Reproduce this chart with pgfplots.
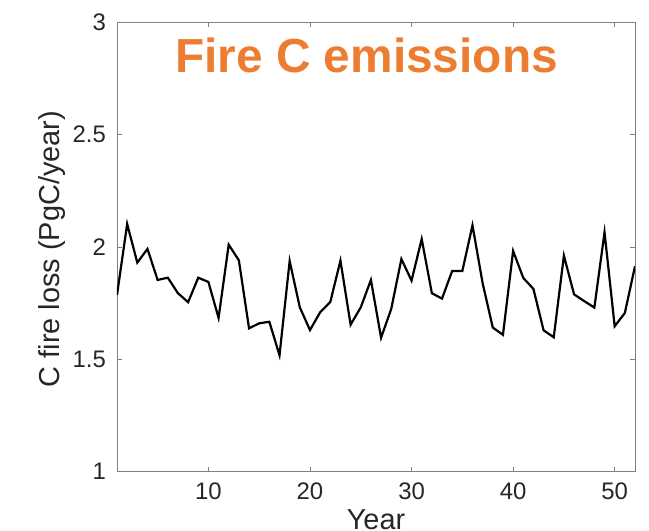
\documentclass[border=0pt]{standalone}
\usepackage{pgfplots}
\pgfplotsset{compat=1.18}
\usepackage{fontspec}
\setmainfont{Liberation Sans}
\definecolor{firec}{RGB}{237,125,49}
\definecolor{axgray}{RGB}{128,128,128}
\definecolor{lblcol}{RGB}{38,38,38}
\begin{document}
\begin{tikzpicture}
\useasboundingbox (-117bp,-59.3bp) rectangle (532bp,471.7bp);
\clip (-117bp,-59.3bp) rectangle (532bp,471.7bp);
\begin{axis}[
  scale only axis, width=518bp, height=449.6bp,
  at={(0,0)}, anchor=south west,
  xmin=1, xmax=52, ymin=1, ymax=3,
  xtick={10,20,30,40,50}, ytick={1,1.5,2,2.5,3},
  axis line style={axgray, line width=0.8bp},
  tick style={axgray, line width=0.7bp},
  major tick length=5bp,
  tick align=inside,
  /pgf/number format/assume math mode=true,
  ticklabel style={font=\fontsize{24}{28}\selectfont, text=lblcol},
  xticklabel style={inner sep=0pt, anchor=north, yshift=-11bp},
  yticklabel style={inner sep=0pt, anchor=east, xshift=-11bp},
  xlabel={Year},
  ylabel={C fire loss (PgC/year)},
  label style={font=\fontsize{29}{32}\selectfont, text=lblcol},
  xlabel style={at={(axis description cs:0.5,0)}, anchor=north, inner sep=0pt, yshift=-38bp},
  ylabel style={at={(axis description cs:-0.1255,0.495)}, anchor=center, inner sep=0pt},
]
\addplot[black, line width=2.2bp, mark=none] coordinates {
(1,1.786) (2,2.102) (3,1.930) (4,1.991) (5,1.853) (6,1.863) (7,1.794) (8,1.754)
(9,1.863) (10,1.844) (11,1.684) (12,2.010) (13,1.940) (14,1.638) (15,1.660) (16,1.667)
(17,1.518) (18,1.937) (19,1.731) (20,1.630) (21,1.709) (22,1.755) (23,1.939) (24,1.654)
(25,1.731) (26,1.853) (27,1.596) (28,1.724) (29,1.946) (30,1.850) (31,2.035) (32,1.794)
(33,1.770) (34,1.893) (35,1.893) (36,2.096) (37,1.838) (38,1.641) (39,1.609) (40,1.982)
(41,1.862) (42,1.813) (43,1.629) (44,1.598) (45,1.961) (46,1.789) (47,1.759) (48,1.730)
(49,2.065) (50,1.647) (51,1.706) (52,1.914)
};
\node[anchor=base, inner sep=0pt, font=\fontsize{48}{50}\selectfont\bfseries, text=firec] at (rel axis cs:0.4817,0.888) {Fire C emissions};
\end{axis}
\end{tikzpicture}
\end{document}
